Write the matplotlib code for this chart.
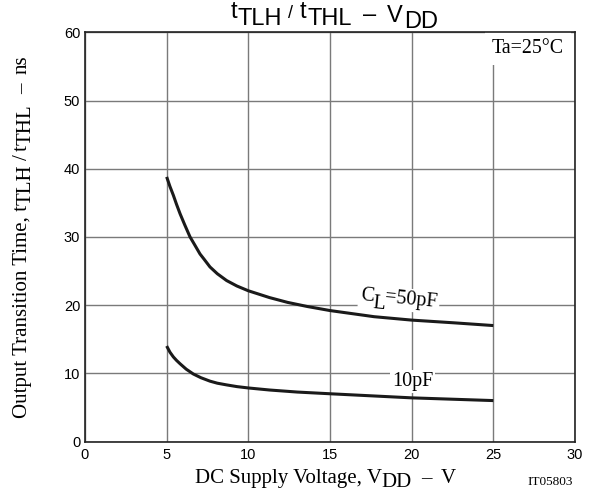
import matplotlib
matplotlib.use("Agg")
import matplotlib.pyplot as plt
from matplotlib.transforms import offset_copy
import numpy as np

# data
vdd_50 = [5.0, 5.2, 5.41, 5.6, 5.82, 6.1, 6.43, 6.7, 7.04, 7.3, 7.65, 8.1, 8.67, 9.3,
          10.0, 11.3, 12.4, 13.6, 15.0, 17.7, 20.0, 22.6, 25.0]
t_50pf = [38.8, 37.4, 36.1, 34.8, 33.4, 31.8, 30.0, 28.9, 27.5, 26.7, 25.6, 24.6, 23.6, 22.8,
          22.1, 21.1, 20.4, 19.8, 19.2, 18.3, 17.8, 17.4, 17.0]
vdd_10 = [5.0, 5.2, 5.41, 5.6, 5.82, 6.2, 6.63, 7.1, 7.65, 8.1, 8.67, 9.3, 10.0, 11.3,
          13.0, 15.0, 17.5, 20.0, 22.5, 25.0]
t_10pf = [14.0, 13.1, 12.4, 11.9, 11.4, 10.6, 9.9, 9.35, 8.85, 8.55, 8.3, 8.05, 7.85, 7.55,
          7.25, 7.0, 6.7, 6.4, 6.2, 6.0]
xticks = [0, 5, 10, 15, 20, 25, 30]
yticks = [0, 10, 20, 30, 40, 50, 60]

serif = "Liberation Serif"
sans = "Liberation Sans"
W, H = 594, 493

fig = plt.figure(figsize=(W / 100, H / 100), dpi=100)
ax = fig.add_axes([85 / W, 1 - 441.5 / H, 490 / W, 409.2 / H])

ax.plot(vdd_50, t_50pf, color="#1a1a1a", lw=2.2, solid_capstyle="butt",
        solid_joinstyle="round", zorder=3)
ax.plot(vdd_10, t_10pf, color="#1a1a1a", lw=2.2, solid_capstyle="butt",
        solid_joinstyle="round", zorder=3)

ax.set_xlim(0, 30)
ax.set_ylim(0, 60)
ax.set_xticks(xticks)
ax.set_yticks(yticks)
ax.tick_params(length=0, labelsize=10.5)
ax.tick_params(axis="x", pad=4.5)
ax.tick_params(axis="y", pad=3.5)
for lab in ax.get_xticklabels() + ax.get_yticklabels():
    lab.set_fontfamily(sans)
ax.grid(True, color="#7a7a7a", lw=1.0)
ax.set_axisbelow(True)
for s in ax.spines.values():
    s.set_color("#222222")
    s.set_linewidth(1.2)

renderer = fig.canvas.get_renderer()


def chain(target, x, y, pieces, transform, rotation=0, ha="center", zorder=3, bbox=None, **kw):
    """pieces: (text, down_px, extra_props, gap_after_px)"""
    widths = []
    for s, down, props, gap in pieces:
        t = fig.text(0, 0, s, **{**kw, **props})
        widths.append(t.get_window_extent(renderer).width)
        t.remove()
    total = sum(widths) + sum(p[3] for p in pieces[:-1])
    adv0 = -total / 2 if ha == "center" else 0.0
    th = np.deg2rad(rotation)
    ux, uy = np.cos(th), np.sin(th)
    dx, dy = np.sin(th), -np.cos(th)
    passes = [(bbox, zorder, "white"), (None, zorder + 0.1, kw.pop("color", "black"))] \
        if bbox is not None else [(None, zorder, kw.pop("color", "black"))]
    for bb, z, col in passes:
        adv = adv0
        for (s, down, props, gap), w in zip(pieces, widths):
            tr = offset_copy(transform, fig=fig, x=adv * ux + down * dx,
                             y=adv * uy + down * dy, units="dots")
            target.text(x, y, s, transform=tr, rotation=rotation, rotation_mode="anchor",
                        ha="left", va="baseline", zorder=z, bbox=bb, color=col,
                        **{**kw, **props})
            adv += w + gap


def fx(px):
    return px / W


def fy(py):
    return 1 - py / H


# title
chain(fig, fx(334), fy(18), [
    ("t", 0, {}, 1),
    ("TLH", 7, {}, 6),
    ("/", 0, {"fontsize": 13}, 6),
    ("t", 0, {}, 1),
    ("THL", 7, {}, 11),
    ("–", 3, {}, 11),
    ("V", 4, {}, 1),
    ("DD", 10, {}, 0),
], fig.transFigure, fontfamily=sans, fontsize=17)

# x label
chain(fig, fx(325), fy(483), [
    ("DC Supply Voltage, V", 0, {}, 0),
    ("DD", 4, {}, 9),
    ("–", 0, {}, 9),
    ("V", 0, {}, 0),
], fig.transFigure, fontfamily=serif, fontsize=15)

# y label
chain(fig, fx(27), fy(236.5), [
    ("Output Transition Time, t", 0, {}, 0),
    ("TLH", 4, {}, 4),
    ("/", 0, {}, 4),
    ("t", 0, {}, 0),
    ("THL", 4, {}, 10),
    ("–", 0, {}, 10),
    ("ns", 0, {}, 0),
], fig.transFigure, rotation=90, fontfamily=serif, fontsize=15)

# curve labels (white boxes break the grid, kept under the curves)
wb = dict(facecolor="white", edgecolor="none", pad=1.5)
chain(ax, 19.2, 20.2, [
    ("C", 0, {}, 0),
    ("L", 7, {}, -1),
    ("=50pF", 0, {}, 0),
], ax.transData, rotation=-5.5, zorder=2, bbox=wb, fontfamily=serif, fontsize=14.5)
ax.text(20.05, 8.8, "10pF", fontfamily=serif, fontsize=14.5, ha="center", va="center",
        bbox=wb, zorder=2)
ax.text(27.1, 57.6, "Ta=25°C", fontfamily=serif, fontsize=14.3, ha="center", va="center",
        bbox=dict(facecolor="white", edgecolor="none", pad=5), zorder=2)

fig.text(fx(550), fy(485), "IT05803", fontfamily=serif, fontsize=9.5, ha="center",
         va="baseline")

fig.savefig("out.png", dpi=100)
